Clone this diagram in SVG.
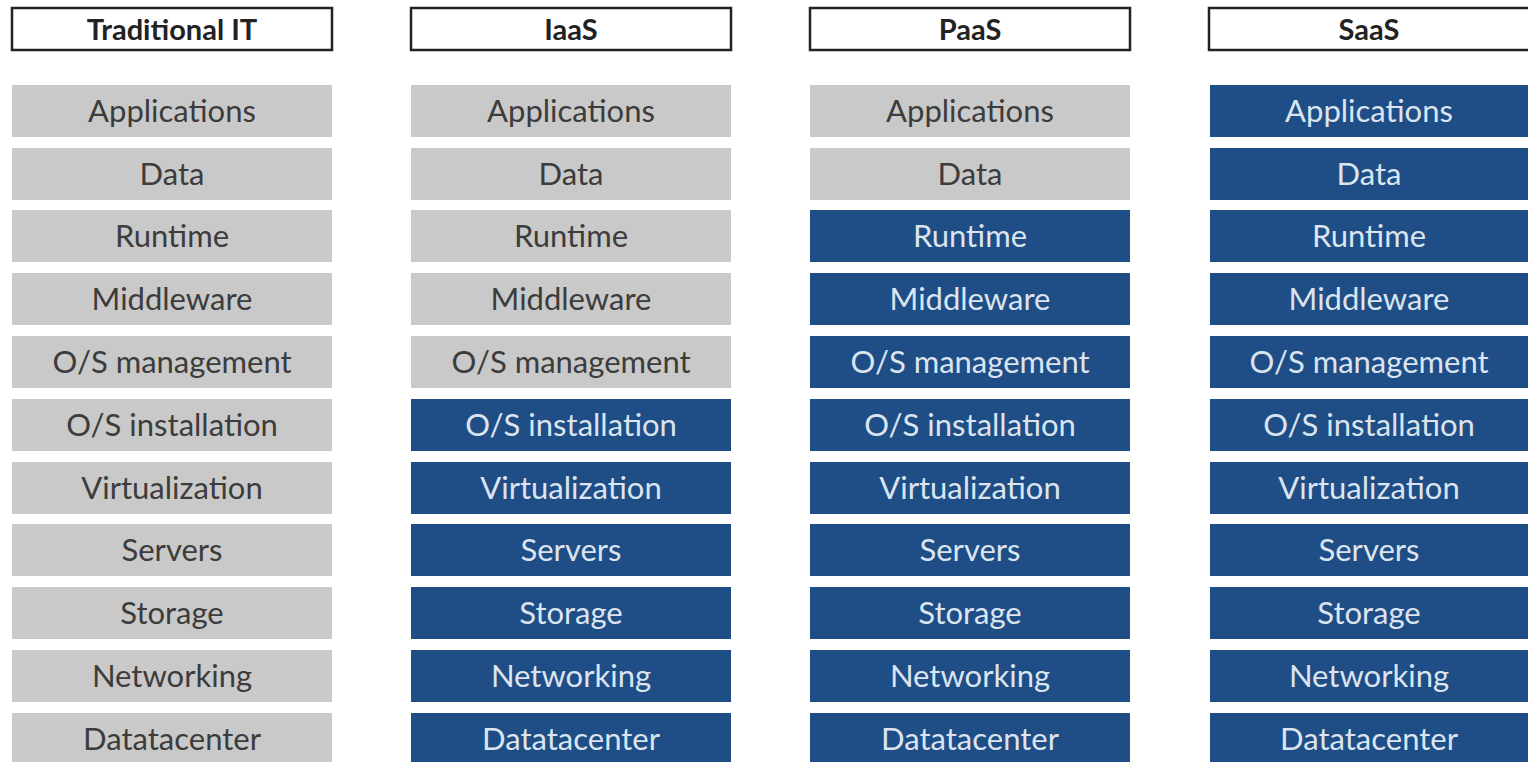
<svg xmlns="http://www.w3.org/2000/svg" width="1528" height="762" viewBox="0 0 1528 762">
<style>
.hdr{fill:#ffffff;stroke:#222222;stroke-width:2.5}
.ht{font-family:Lato,"Open Sans",sans-serif;font-weight:bold;font-size:29px;fill:#222222;text-anchor:middle}
.g{fill:#c9c9c9}
.b{fill:#1f4d85}
.gt{font-family:Lato,"Open Sans",sans-serif;font-size:31px;fill:#3c3c3c;text-anchor:middle}
.bt{font-family:Lato,"Open Sans",sans-serif;font-size:31px;fill:#dbe4ef;text-anchor:middle}
</style>
<rect width="1528" height="762" fill="#ffffff"/>
<g id="col-traditional">
<rect class="hdr" x="12" y="8" width="320" height="42"/><text class="ht" x="172" y="40">Traditional IT</text>
<rect class="g" x="12" y="85" width="320" height="52"/><text class="gt" x="172" y="122">Applications</text>
<rect class="g" x="12" y="148" width="320" height="52"/><text class="gt" x="172" y="185">Data</text>
<rect class="g" x="12" y="210" width="320" height="52"/><text class="gt" x="172" y="247">Runtime</text>
<rect class="g" x="12" y="273" width="320" height="52"/><text class="gt" x="172" y="310">Middleware</text>
<rect class="g" x="12" y="336" width="320" height="52"/><text class="gt" x="172" y="373">O/S management</text>
<rect class="g" x="12" y="399" width="320" height="52"/><text class="gt" x="172" y="436">O/S installation</text>
<rect class="g" x="12" y="462" width="320" height="52"/><text class="gt" x="172" y="499">Virtualization</text>
<rect class="g" x="12" y="524" width="320" height="52"/><text class="gt" x="172" y="561">Servers</text>
<rect class="g" x="12" y="587" width="320" height="52"/><text class="gt" x="172" y="624">Storage</text>
<rect class="g" x="12" y="650" width="320" height="52"/><text class="gt" x="172" y="687">Networking</text>
<rect class="g" x="12" y="713" width="320" height="52"/><text class="gt" x="172" y="750">Datatacenter</text>
</g>
<g id="col-iaas">
<rect class="hdr" x="411" y="8" width="320" height="42"/><text class="ht" x="571" y="40">IaaS</text>
<rect class="g" x="411" y="85" width="320" height="52"/><text class="gt" x="571" y="122">Applications</text>
<rect class="g" x="411" y="148" width="320" height="52"/><text class="gt" x="571" y="185">Data</text>
<rect class="g" x="411" y="210" width="320" height="52"/><text class="gt" x="571" y="247">Runtime</text>
<rect class="g" x="411" y="273" width="320" height="52"/><text class="gt" x="571" y="310">Middleware</text>
<rect class="g" x="411" y="336" width="320" height="52"/><text class="gt" x="571" y="373">O/S management</text>
<rect class="b" x="411" y="399" width="320" height="52"/><text class="bt" x="571" y="436">O/S installation</text>
<rect class="b" x="411" y="462" width="320" height="52"/><text class="bt" x="571" y="499">Virtualization</text>
<rect class="b" x="411" y="524" width="320" height="52"/><text class="bt" x="571" y="561">Servers</text>
<rect class="b" x="411" y="587" width="320" height="52"/><text class="bt" x="571" y="624">Storage</text>
<rect class="b" x="411" y="650" width="320" height="52"/><text class="bt" x="571" y="687">Networking</text>
<rect class="b" x="411" y="713" width="320" height="52"/><text class="bt" x="571" y="750">Datatacenter</text>
</g>
<g id="col-paas">
<rect class="hdr" x="810" y="8" width="320" height="42"/><text class="ht" x="970" y="40">PaaS</text>
<rect class="g" x="810" y="85" width="320" height="52"/><text class="gt" x="970" y="122">Applications</text>
<rect class="g" x="810" y="148" width="320" height="52"/><text class="gt" x="970" y="185">Data</text>
<rect class="b" x="810" y="210" width="320" height="52"/><text class="bt" x="970" y="247">Runtime</text>
<rect class="b" x="810" y="273" width="320" height="52"/><text class="bt" x="970" y="310">Middleware</text>
<rect class="b" x="810" y="336" width="320" height="52"/><text class="bt" x="970" y="373">O/S management</text>
<rect class="b" x="810" y="399" width="320" height="52"/><text class="bt" x="970" y="436">O/S installation</text>
<rect class="b" x="810" y="462" width="320" height="52"/><text class="bt" x="970" y="499">Virtualization</text>
<rect class="b" x="810" y="524" width="320" height="52"/><text class="bt" x="970" y="561">Servers</text>
<rect class="b" x="810" y="587" width="320" height="52"/><text class="bt" x="970" y="624">Storage</text>
<rect class="b" x="810" y="650" width="320" height="52"/><text class="bt" x="970" y="687">Networking</text>
<rect class="b" x="810" y="713" width="320" height="52"/><text class="bt" x="970" y="750">Datatacenter</text>
</g>
<g id="col-saas">
<rect class="hdr" x="1209" y="8" width="322" height="42"/><text class="ht" x="1369" y="40">SaaS</text>
<rect class="b" x="1210" y="85" width="320" height="52"/><text class="bt" x="1369" y="122">Applications</text>
<rect class="b" x="1210" y="148" width="320" height="52"/><text class="bt" x="1369" y="185">Data</text>
<rect class="b" x="1210" y="210" width="320" height="52"/><text class="bt" x="1369" y="247">Runtime</text>
<rect class="b" x="1210" y="273" width="320" height="52"/><text class="bt" x="1369" y="310">Middleware</text>
<rect class="b" x="1210" y="336" width="320" height="52"/><text class="bt" x="1369" y="373">O/S management</text>
<rect class="b" x="1210" y="399" width="320" height="52"/><text class="bt" x="1369" y="436">O/S installation</text>
<rect class="b" x="1210" y="462" width="320" height="52"/><text class="bt" x="1369" y="499">Virtualization</text>
<rect class="b" x="1210" y="524" width="320" height="52"/><text class="bt" x="1369" y="561">Servers</text>
<rect class="b" x="1210" y="587" width="320" height="52"/><text class="bt" x="1369" y="624">Storage</text>
<rect class="b" x="1210" y="650" width="320" height="52"/><text class="bt" x="1369" y="687">Networking</text>
<rect class="b" x="1210" y="713" width="320" height="52"/><text class="bt" x="1369" y="750">Datatacenter</text>
</g>
<g id="connectors"></g>
</svg>
